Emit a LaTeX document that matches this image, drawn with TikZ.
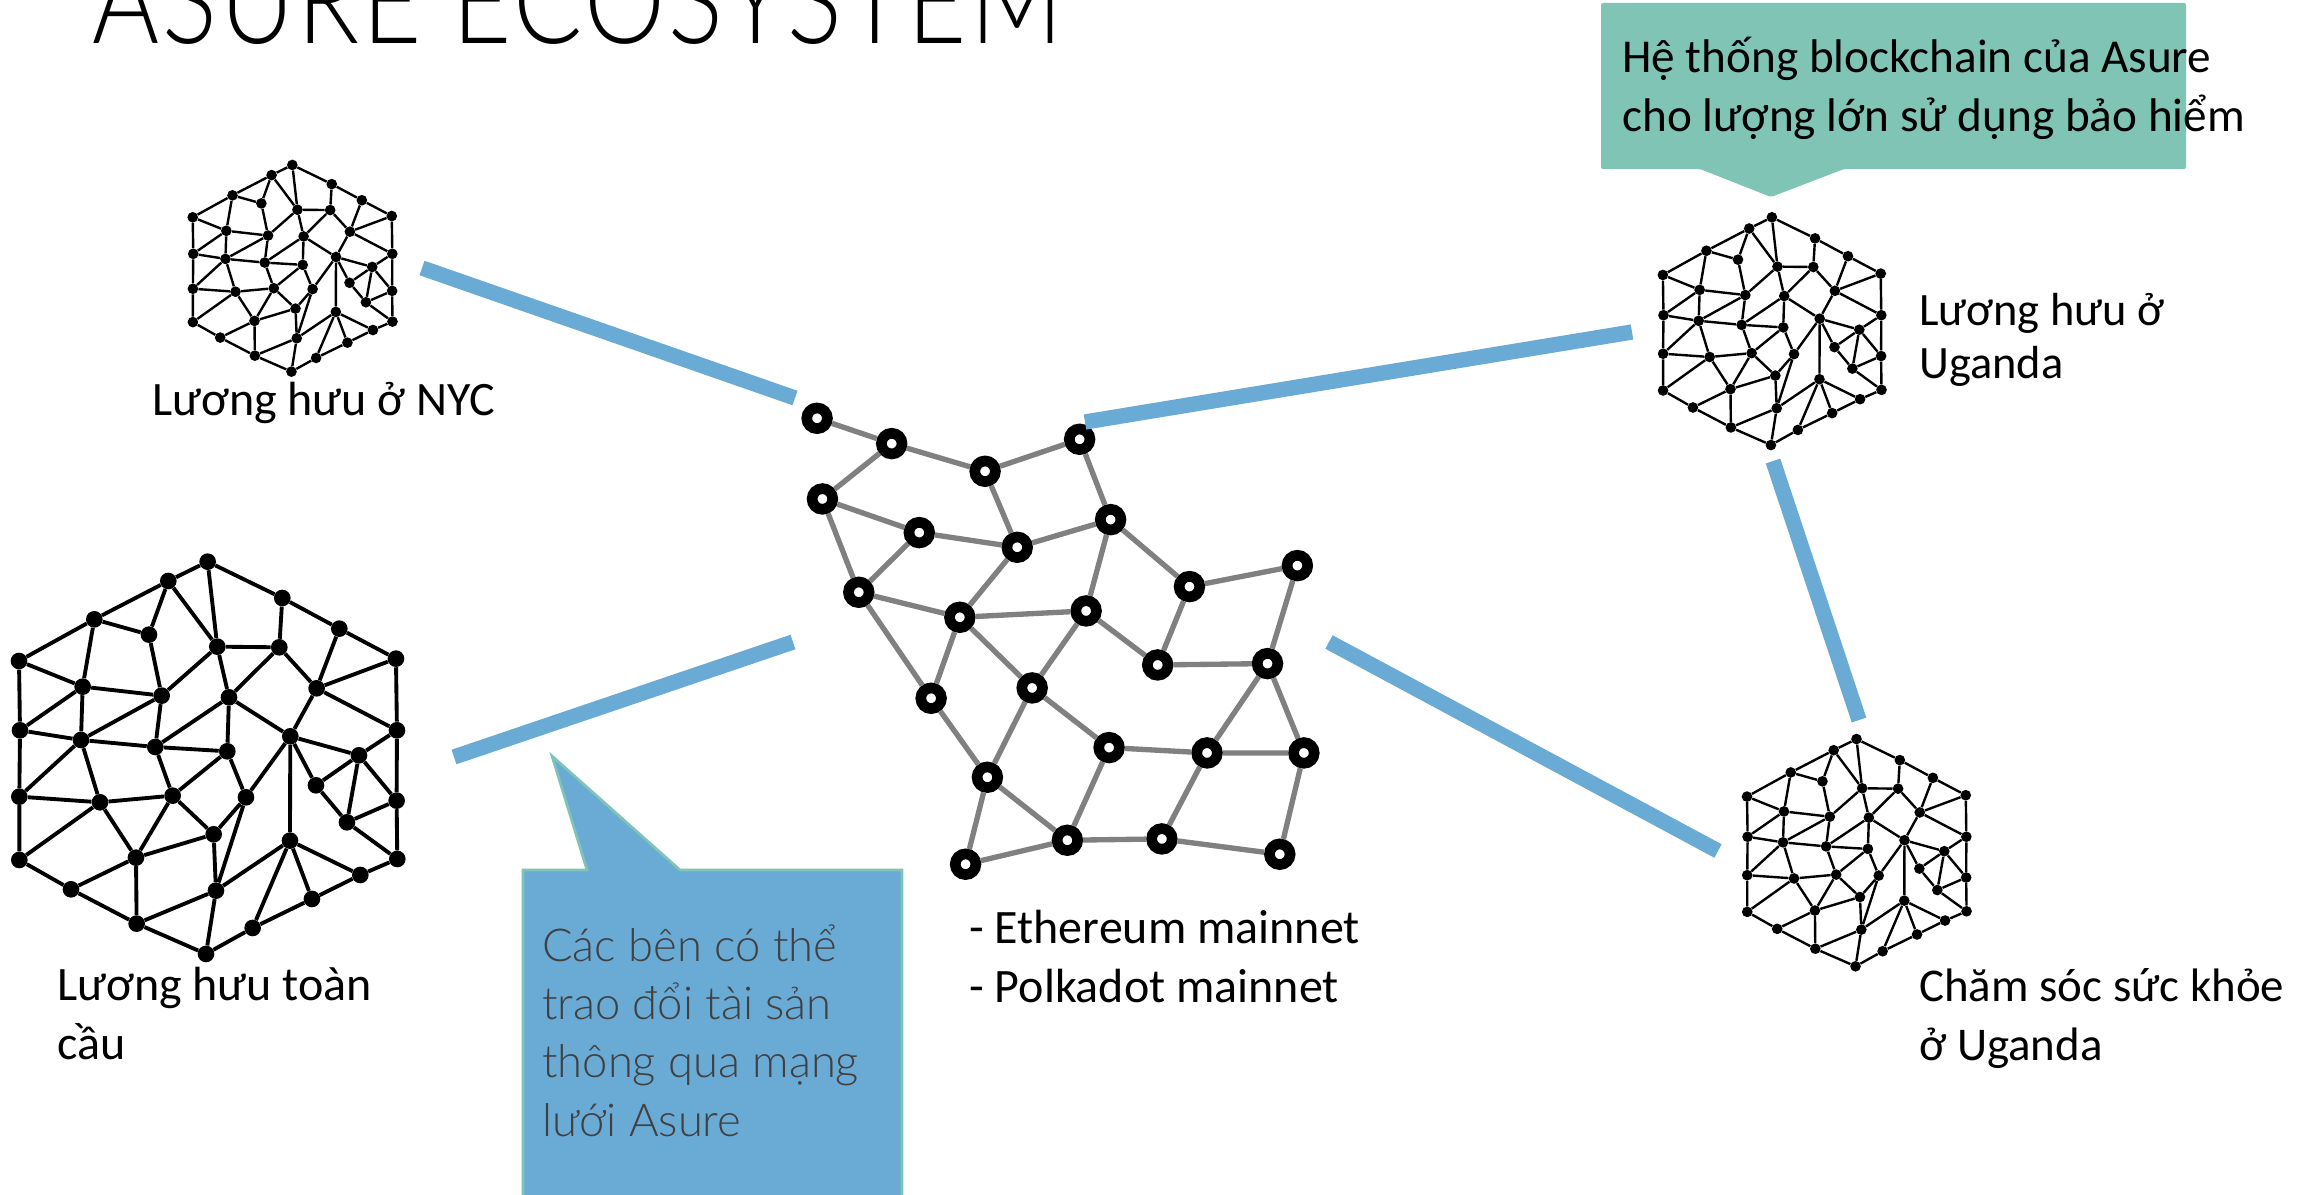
\documentclass[tikz,border=0pt]{standalone}
\usepackage{fontspec}
\setmainfont{Carlito}
\newfontfamily\lightfont{Lato Light}
\definecolor{barblue}{HTML}{6AABD6}
\definecolor{calloutgreen}{HTML}{7FC4B5}
\definecolor{meshgrey}{HTML}{808080}
\definecolor{darktext}{HTML}{404040}
\newcommand{\lab}{\fontsize{36}{44.25}\selectfont}
\newcommand{\meshnet}[7]{%
 % name, ox, oy, sx, sy, dot size, line width
 \begin{scope}[name prefix=#1-,shift={(#2,#3)},xscale=#4,yscale=#5,
   every node/.style={circle,fill=black,inner sep=0pt,minimum size=#6}]
  \node (a1) at (623,125) {}; \node (a2) at (505,183) {}; \node (a3) at (283,298) {};
  \node (a4) at (57,423) {}; \node (a5) at (847,234) {}; \node (a6) at (1018,326) {};
  \node (a7) at (1188,416) {}; \node (b1) at (447,344) {}; \node (b2) at (652,380) {};
  \node (b3) at (838,382) {}; \node (c1) at (248,500) {}; \node (c2) at (485,527) {};
  \node (c3) at (687,532) {}; \node (c4) at (950,505) {}; \node (d1) at (60,631) {};
  \node (d2) at (243,660) {}; \node (d3) at (466,681) {}; \node (d4) at (682,694) {};
  \node (d5) at (871,649) {}; \node (d6) at (1191,631) {}; \node (d7) at (1077,706) {};
  \node (e1) at (948,796) {}; \node (e2) at (58,830) {}; \node (e3) at (300,847) {};
  \node (e4) at (518,827) {}; \node (e5) at (738,832) {}; \node (e6) at (1190,842) {};
  \node (e7) at (1041,907) {}; \node (f1) at (641,943) {}; \node (f2) at (870,962) {};
  \node (g1) at (58,1020) {}; \node (g2) at (408,1013) {}; \node (g3) at (1192,1017) {};
  \node (g4) at (1081,1065) {}; \node (h1) at (213,1108) {}; \node (h2) at (648,1112) {};
  \node (h3) at (936,1137) {}; \node (i1) at (410,1211) {}; \node (i2) at (758,1224) {};
  \node (j) at (618,1302) {};
  \draw[line width=#7] (a1)--(a2) (a2)--(a3) (a3)--(a4) (a1)--(a5) (a5)--(a6) (a6)--(a7)
   (a4)--(d1) (d1)--(e2) (e2)--(g1) (g1)--(h1) (h1)--(i1) (i1)--(j) (j)--(i2) (i2)--(h3)
   (h3)--(g4) (g4)--(g3) (g3)--(e6) (e6)--(d6) (d6)--(a7)
   (a2)--(b1) (a3)--(b1) (a2)--(b2) (a1)--(b2) (a5)--(b3) (b2)--(b3) (b3)--(c4) (a6)--(c4)
   (a7)--(c4) (c4)--(d6) (c4)--(d5) (b3)--(c3) (b2)--(c3) (b2)--(c2) (b1)--(c2) (a3)--(c1)
   (a4)--(c1) (c1)--(c2) (c1)--(d1) (c1)--(d2) (c2)--(d2) (c2)--(d3) (c3)--(d3) (c3)--(d4)
   (c3)--(d5) (d1)--(d2) (d2)--(d3) (d3)--(d4) (d2)--(e2) (d2)--(e3) (d3)--(e4) (d4)--(e4)
   (d4)--(e5) (d5)--(e5) (d5)--(d7) (d7)--(d6) (d5)--(e1) (e1)--(d7) (e1)--(e7) (d7)--(e7)
   (d7)--(e6) (e6)--(e7) (e7)--(g3) (d5)--(f2) (e2)--(e3) (e3)--(e4) (e3)--(g1) (e3)--(g2)
   (e4)--(g2) (e4)--(f1) (e5)--(f1) (e5)--(h2) (f1)--(g2) (f1)--(h2) (f2)--(h2) (f2)--(i2)
   (f2)--(h3) (f2)--(g4) (g2)--(h1) (g2)--(i1) (h2)--(i1) (h2)--(j);
 \end{scope}}
\tikzset{
 bar/.style={draw=barblue,line width=11.5pt},
 link/.style={draw=meshgrey,line width=4pt},
 ring/.style={circle,draw=black,fill=white,line width=8pt,minimum size=15.5pt,inner sep=0pt},
 lbl/.style={anchor=base west,align=left,inner sep=0pt,font=\lab,text=black},
}
\begin{document}
\begin{tikzpicture}[x=0.75pt,y=-0.75pt]
\useasboundingbox (0,0) rectangle (2310,1195);
% title
\node[anchor=base west,inner sep=0pt] (title) at (92,44)
 {\scalebox{0.834}[1]{\lightfont\addfontfeature{LetterSpace=3}\fontsize{92}{100}\selectfont ASURE ECOSYSTEM}};
% hex meshes
\meshnet{big}{0}{520}{0.3333}{0.3333}{12.5pt}{2.9pt}
\meshnet{nyc}{182.7}{143}{0.176}{0.1756}{8pt}{1.8pt}
\meshnet{uga}{1651.9}{193.1}{0.1926}{0.1935}{8pt}{1.8pt}
\meshnet{care}{1736}{714.9}{0.1934}{0.1931}{8pt}{1.8pt}
% central network
\begin{scope}[xscale=0.3827,yscale=0.3333,shift={(1986,1170)}]
 \foreach \i/\a/\b in {1/149/85,2/344/161,3/588/244,4/835/148,5/163/327,6/416/428,7/672/472,8/916/389,9/258/607,10/522/682,11/852/663,12/1122/590,13/1404/527,14/1039/825,15/1326/821,16/447/925,17/711/894,18/912/1073,19/1168/1089,20/1421/1089,21/594/1162,22/803/1351,23/1050/1347,24/1358/1393,25/537/1423}
  \node[ring] (n\i) at (\a,\b) {};
 \foreach \a/\b in {1/2,2/3,3/4,2/5,3/7,4/8,5/6,6/7,7/8,5/9,6/9,7/10,8/11,8/12,9/10,10/11,9/16,10/16,10/17,11/17,11/14,12/14,12/13,13/15,14/15,15/19,15/20,16/21,17/21,17/18,18/19,19/20,18/22,19/23,20/24,21/22,21/25,22/25,22/23,23/24}
  \draw[link] (n\a)--(n\b);
\end{scope}
% blue bars
\coordinate (b1s) at (422,268); \coordinate (b1e) at (795,398);
\coordinate (b2s) at (1085,422); \coordinate (b2e) at (1632,332);
\coordinate (b3s) at (454,757); \coordinate (b3e) at (793,642);
\coordinate (b4s) at (1329,642); \coordinate (b4e) at (1718,851);
\coordinate (b5s) at (1773,461); \coordinate (b5e) at (1859,720);
\draw[bar] (b1s)--(b1e); \draw[bar] (b2s)--(b2e); \draw[bar] (b3s)--(b3e);
\draw[bar] (b4s)--(b4e); \draw[bar] (b5s)--(b5e);
% green callout
\fill[calloutgreen,rounded corners=1.5pt] (1601,3) -- (2186,3) -- (2186,169) -- (1844,169) -- (1771,197) -- (1700,169) -- (1601,169) -- cycle;
\node[lbl,font=\fontsize{35.4}{44.25}\selectfont] (gtext) at (1622,132) {Hệ thống blockchain của Asure\\cho lượng lớn sử dụng bảo hiểm};
% blue callout
\filldraw[fill=barblue,draw=calloutgreen,line width=2pt] (523,870) -- (587,870) -- (552,756) -- (680,870) -- (902,870) -- (902,1230) -- (523,1230) -- cycle;
\node[lbl,text=darktext,font=\lightfont\fontsize{34}{43.75}\selectfont] (btext) at (542,1136) {Các bên có thể\\trao đổi tài sản\\thông qua mạng\\lưới Asure};
% labels
\node[lbl] (l1) at (152,415) {Lương hưu ở NYC};
\node[lbl] (l2) at (57,1059) {Lương hưu toàn\\cầu};
\node[lbl] (l3) at (969,1002) {- Ethereum mainnet\\- Polkadot mainnet};
\node[lbl,font=\fontsize{34.8}{39.75}\selectfont] (l4) at (1919,378) {Lương hưu ở\\Uganda};
\node[lbl,font=\fontsize{35.2}{44.25}\selectfont] (l5) at (1919,1060) {Chăm sóc sức khỏe\\ở Uganda};
\end{tikzpicture}
\end{document}
